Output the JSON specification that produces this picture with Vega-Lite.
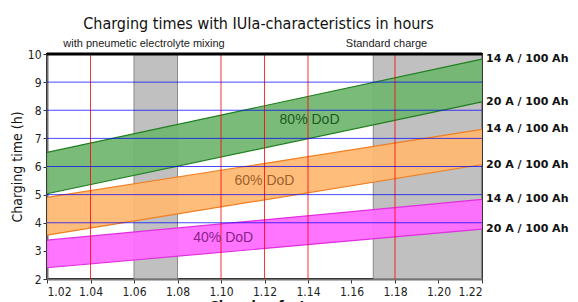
{
  "$schema": "https://vega.github.io/schema/vega-lite/v6.json",
  "width": 435,
  "height": 225,
  "autosize": {"type": "none"},
  "padding": {"left": 47, "top": 54, "right": 96, "bottom": 23},
  "background": "white",
  "title": {
    "text": "Charging times with IUIa-characteristics in hours",
    "frame": "group",
    "anchor": "middle",
    "font": "DejaVu Sans Condensed, Liberation Sans Narrow, Liberation Sans",
    "fontSize": 16,
    "fontWeight": "normal",
    "color": "#111111",
    "baseline": "bottom",
    "offset": -10,
    "dx": -6
  },
  "config": {
    "view": {"stroke": "#000000", "strokeWidth": 2},
    "axis": {
      "zindex": 1,
      "grid": false,
      "labelOverlap": false,
      "labelFont": "DejaVu Sans Condensed, Liberation Sans Narrow, Liberation Sans",
      "labelFontSize": 12,
      "labelColor": "#222222",
      "tickColor": "#333333",
      "tickSize": 4,
      "domainColor": "#707070",
      "domainWidth": 2,
      "titleFont": "DejaVu Sans Condensed, Liberation Sans Narrow, Liberation Sans",
      "titleColor": "#111111"
    }
  },
  "datasets": {
    "bands": [
      {"dod": "80% DoD", "x": 1.02, "lo": 5.03, "hi": 6.5},
      {"dod": "80% DoD", "x": 1.22, "lo": 8.3, "hi": 9.82},
      {"dod": "60% DoD", "x": 1.02, "lo": 3.56, "hi": 4.9},
      {"dod": "60% DoD", "x": 1.22, "lo": 6.07, "hi": 7.32},
      {"dod": "40% DoD", "x": 1.02, "lo": 2.4, "hi": 3.38},
      {"dod": "40% DoD", "x": 1.22, "lo": 3.77, "hi": 4.83}
    ],
    "vgrid": [{"gx": 1.04}, {"gx": 1.1}, {"gx": 1.12}, {"gx": 1.14}, {"gx": 1.18}],
    "hgrid": [{"y": 4}, {"y": 5}, {"y": 6}, {"y": 7}, {"y": 8}, {"y": 9}],
    "topline": [{"x": 1.02, "x2": 1.22, "y": 10}],
    "shade": [{"x": 1.06, "x2": 1.08}, {"x": 1.17, "x2": 1.22}],
    "bandlabels": [
      {"label": "80% DoD", "x": 1.1407, "y": 7.65},
      {"label": "60% DoD", "x": 1.12, "y": 5.48},
      {"label": "40% DoD", "x": 1.101, "y": 3.46}
    ],
    "rightlabels": [
      {"label": "14 A / 100 Ah", "x": 1.22, "y": 9.82},
      {"label": "20 A / 100 Ah", "x": 1.22, "y": 8.3},
      {"label": "14 A / 100 Ah", "x": 1.22, "y": 7.32},
      {"label": "20 A / 100 Ah", "x": 1.22, "y": 6.07},
      {"label": "14 A / 100 Ah", "x": 1.22, "y": 4.83},
      {"label": "20 A / 100 Ah", "x": 1.22, "y": 3.77}
    ],
    "notes": [
      {"label": "with pneumetic electrolyte mixing", "x": 1.0646, "y": 10.25},
      {"label": "Standard charge", "x": 1.1761, "y": 10.25}
    ]
  },
  "layer": [
    {
      "data": {"name": "shade"},
      "mark": {"type": "rect", "fill": "#b8b8b8", "stroke": "#7a7a7a", "strokeWidth": 1, "opacity": 0.88},
      "encoding": {
        "x": {
          "field": "x",
          "type": "quantitative",
          "scale": {"domain": [1.02, 1.22], "nice": false, "zero": false},
          "axis": {
            "values": [1.02, 1.04, 1.06, 1.08, 1.1, 1.12, 1.14, 1.16, 1.18, 1.2, 1.22],
            "format": ".2f",
            "labelPadding": 3,
            "title": "Charging factor",
            "titleFontSize": 14,
            "titleFontWeight": "bold",
            "titlePadding": 2
          }
        },
        "x2": {"field": "x2"}
      }
    },
    {
      "data": {"name": "bands"},
      "mark": {"type": "area", "fillOpacity": 0.93},
      "encoding": {
        "x": {"field": "x", "type": "quantitative"},
        "y": {
          "field": "lo",
          "type": "quantitative",
          "scale": {"domain": [2, 10], "nice": false, "zero": false},
          "axis": {
            "values": [2, 3, 4, 5, 6, 7, 8, 9, 10],
            "tickCount": 9,
            "labelOverlap": false,
            "labelPadding": 2,
            "title": "Charging time (h)",
            "titleFontSize": 14,
            "titleFontWeight": "normal",
            "titlePadding": 3
          }
        },
        "y2": {"field": "hi"},
        "fill": {
          "field": "dod",
          "type": "nominal",
          "scale": {"domain": ["80% DoD", "60% DoD", "40% DoD"], "range": ["#70b670", "#ffb872", "#ff6bff"]},
          "legend": null
        }
      }
    },
    {
      "data": {"name": "bands"},
      "mark": {"type": "line", "strokeWidth": 1.2},
      "encoding": {
        "x": {"field": "x", "type": "quantitative"},
        "y": {"field": "hi", "type": "quantitative"},
        "stroke": {
          "field": "dod",
          "type": "nominal",
          "scale": {"domain": ["80% DoD", "60% DoD", "40% DoD"], "range": ["#1f7f1f", "#f07f20", "#e02ee0"]},
          "legend": null
        }
      }
    },
    {
      "data": {"name": "bands"},
      "mark": {"type": "line", "strokeWidth": 1.2},
      "encoding": {
        "x": {"field": "x", "type": "quantitative"},
        "y": {"field": "lo", "type": "quantitative"},
        "stroke": {"field": "dod", "type": "nominal", "legend": null}
      }
    },
    {
      "data": {"name": "vgrid"},
      "mark": {"type": "rule", "color": "#ff0000", "strokeWidth": 1, "opacity": 0.8},
      "encoding": {
        "x": {"field": "gx", "type": "quantitative"}
      }
    },
    {
      "data": {"name": "hgrid"},
      "mark": {"type": "rule", "color": "#0000ff", "strokeWidth": 1, "opacity": 0.72},
      "encoding": {
        "y": {"field": "y", "type": "quantitative"}
      }
    },
    {
      "data": {"name": "topline"},
      "mark": {"type": "rule", "color": "#000000", "strokeWidth": 3},
      "encoding": {
        "x": {"field": "x", "type": "quantitative"},
        "x2": {"field": "x2"},
        "y": {"field": "y", "type": "quantitative"}
      }
    },
    {
      "data": {"name": "bandlabels"},
      "mark": {"type": "text", "font": "Liberation Sans", "fontSize": 14, "align": "center", "baseline": "middle"},
      "encoding": {
        "x": {"field": "x", "type": "quantitative"},
        "y": {"field": "y", "type": "quantitative"},
        "text": {"field": "label"},
        "color": {
          "field": "label",
          "type": "nominal",
          "scale": {"domain": ["80% DoD", "60% DoD", "40% DoD"], "range": ["#1c5a1c", "#a0602a", "#8a1e8a"]},
          "legend": null
        }
      }
    },
    {
      "data": {"name": "rightlabels"},
      "mark": {"type": "text", "font": "DejaVu Sans", "fontSize": 11, "fontWeight": "bold", "align": "left", "baseline": "middle", "dx": 4, "color": "#111111"},
      "encoding": {
        "x": {"field": "x", "type": "quantitative"},
        "y": {"field": "y", "type": "quantitative"},
        "text": {"field": "label"}
      }
    },
    {
      "data": {"name": "notes"},
      "mark": {"type": "text", "font": "Liberation Sans", "fontSize": 11, "align": "center", "baseline": "alphabetic", "color": "#222222"},
      "encoding": {
        "x": {"field": "x", "type": "quantitative"},
        "y": {"field": "y", "type": "quantitative"},
        "text": {"field": "label"}
      }
    }
  ]
}
